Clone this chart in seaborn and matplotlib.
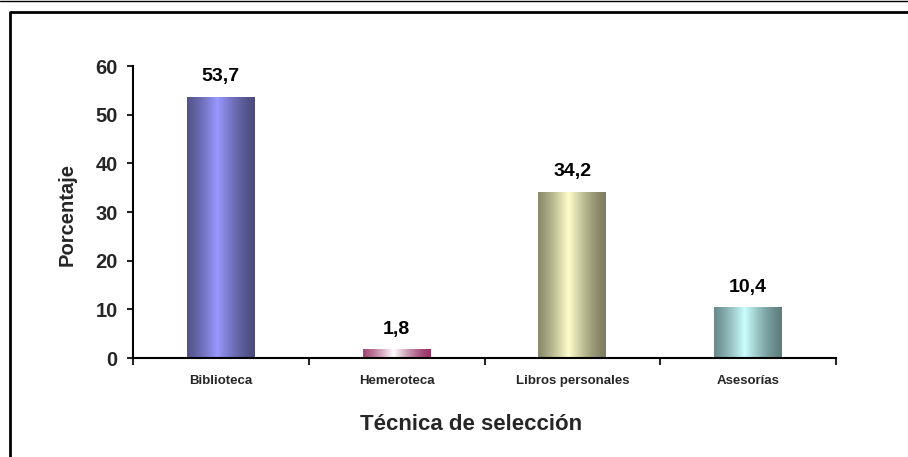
import numpy as np
import matplotlib
matplotlib.use("Agg")
import matplotlib.pyplot as plt
from matplotlib.lines import Line2D
from matplotlib.colors import to_rgb
import seaborn as sns

# ---- data ----
categories = ["Biblioteca", "Hemeroteca", "Libros personales", "Asesorías"]
values = [53.7, 1.8, 34.2, 10.4]
value_labels = ["53,7", "1,8", "34,2", "10,4"]
y_ticks = [0, 10, 20, 30, 40, 50, 60]

# ---- style ----
edge_colors = ["#4C4C7E", "#993366", "#7E7E60", "#5E7E7E"]
center_colors = ["#9999FF", "#FFFFFF", "#FFFFCC", "#CCFFFF"]

sns.set_style("white")
plt.rcParams["font.family"] = ["Liberation Sans", "DejaVu Sans"]
plt.rcParams["font.weight"] = "bold"

W, H = 908, 457
fig = plt.figure(figsize=(W / 100, H / 100), dpi=100)
ax = fig.add_axes([133 / W, 1 - 358 / H, (836 - 133) / W, (358 - 66) / H])

sns.barplot(x=categories, y=values, ax=ax, width=0.386, color="white",
            saturation=1, linewidth=0, zorder=2)

# gradient fill clipped to each bar
t = np.linspace(0, 1, 200)
f = np.clip(1 - np.abs(t - 0.45) / 0.55, 0, 1) ** 1.4
for patch, ec, cc in zip(ax.patches, edge_colors, center_colors):
    e = np.array(to_rgb(ec))
    c = np.array(to_rgb(cc))
    grad = e[None, :] * (1 - f[:, None]) + c[None, :] * f[:, None]
    img = grad[None, :, :]
    x0 = patch.get_x()
    w = patch.get_width()
    h = patch.get_height()
    im = ax.imshow(img, extent=(x0, x0 + w, 0, h), aspect="auto",
                   origin="lower", zorder=3, interpolation="bilinear")
    im.set_clip_path(patch)

ax.set_xlim(-0.5, len(categories) - 0.5)
ax.set_ylim(0, 60)

# value labels
for i, (v, lab) in enumerate(zip(values, value_labels)):
    ax.annotate(lab, xy=(i, v), xytext=(0, 11.3), textcoords="offset points",
                ha="center", va="baseline", fontsize=14, fontweight="bold",
                color="black", zorder=5)

# axes styling
for s in ["top", "right"]:
    ax.spines[s].set_visible(False)
for s in ["left", "bottom"]:
    ax.spines[s].set_linewidth(1.5)
    ax.spines[s].set_color("black")
    ax.spines[s].set_zorder(6)

ax.set_yticks(y_ticks)
ax.set_yticklabels([str(v) for v in y_ticks], fontsize=14.5, fontweight="bold")
ax.tick_params(axis="y", direction="out", length=4.5, width=1.5, pad=6.5, left=True)

bounds = np.arange(-0.5, len(categories), 1.0)
ax.set_xticks(bounds)
ax.set_xticklabels([""] * len(bounds))
ax.set_xticks(np.arange(len(categories)), minor=True)
ax.set_xticklabels(categories, minor=True, fontsize=9.5, fontweight="bold")
ax.tick_params(axis="x", which="major", direction="out", length=5, width=1.5, bottom=True)
ax.tick_params(axis="x", which="minor", length=0, pad=12)

ax.set_xlabel("Técnica de selección", fontsize=16, fontweight="bold")
ax.xaxis.set_label_coords(471.5 / W, 1 - 424 / H, transform=fig.transFigure)
ax.xaxis.label.set_verticalalignment("center")
ax.set_ylabel("Porcentaje", fontsize=14.5, fontweight="bold")
ax.yaxis.set_label_coords(67 / W, 1 - 214 / H, transform=fig.transFigure)
ax.yaxis.label.set_verticalalignment("center")

# outer frame
fig.add_artist(Line2D([0, 1], [1 - 0.5 / H, 1 - 0.5 / H], transform=fig.transFigure,
                      color="black", linewidth=1))
fig.add_artist(Line2D([10 / W, 10 / W, 1.0], [0, 1 - 11.5 / H, 1 - 11.5 / H],
                      transform=fig.transFigure, color="black", linewidth=2))

fig.savefig("out.png", dpi=100)
